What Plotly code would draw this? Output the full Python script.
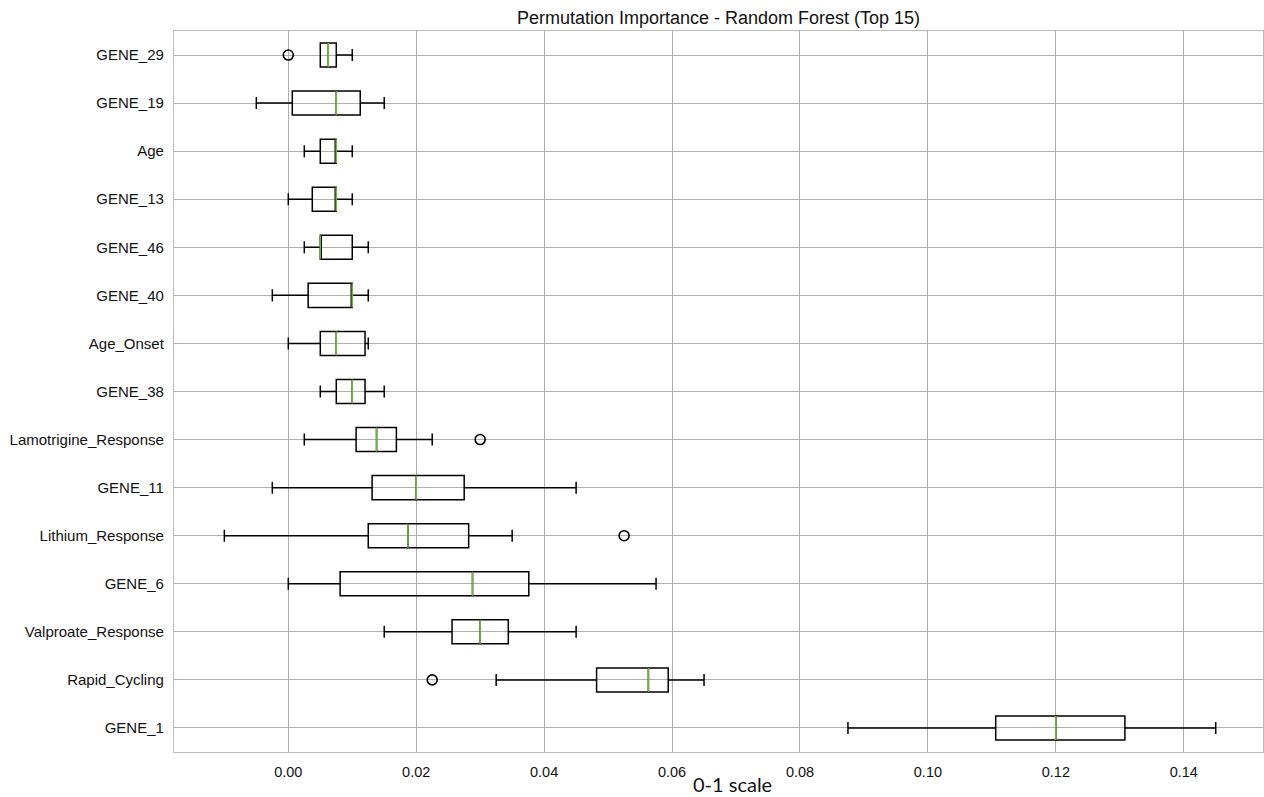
import plotly.graph_objects as go

# Features listed top to bottom
features = ["GENE_29", "GENE_19", "Age", "GENE_13", "GENE_46", "GENE_40", "Age_Onset",
            "GENE_38", "Lamotrigine_Response", "GENE_11", "Lithium_Response", "GENE_6",
            "Valproate_Response", "Rapid_Cycling", "GENE_1"]
lower_whisker = [0.005, -0.005, 0.0025, 0.0, 0.0025, -0.0025, 0.0, 0.005, 0.0025, -0.0025,
                 -0.01, 0.0, 0.015, 0.0325, 0.0875]
q1_vals = [0.005, 0.000625, 0.005, 0.00375, 0.005, 0.0031, 0.005, 0.0075, 0.0106, 0.0131,
           0.0125, 0.0081, 0.0256, 0.0482, 0.1106]
median_vals = [0.00625, 0.0075, 0.0075, 0.0075, 0.005, 0.01, 0.0075, 0.01, 0.0138, 0.020,
               0.0187, 0.0288, 0.030, 0.0563, 0.120]
q3_vals = [0.0075, 0.01125, 0.0075, 0.0075, 0.01, 0.01, 0.012, 0.012, 0.0169, 0.0275,
           0.0282, 0.0376, 0.0344, 0.0594, 0.1308]
upper_whisker = [0.01, 0.015, 0.01, 0.01, 0.0125, 0.0125, 0.0125, 0.015, 0.0225, 0.045,
                 0.035, 0.0575, 0.045, 0.065, 0.145]
outliers = [[0.0], [], [], [], [], [], [], [], [0.030], [], [0.0525], [], [], [0.0225], []]

x_ticks = [0.00, 0.02, 0.04, 0.06, 0.08, 0.10, 0.12, 0.14]
title_text = "Permutation Importance - Random Forest (Top 15)"
x_label = "0-1 scale"

n = len(features)
positions = [n - i for i in range(n)]  # top feature at highest position
half_w = 0.25

fig = go.Figure()
fig.add_trace(go.Box(
    orientation="h",
    y=positions,
    q1=q1_vals, median=median_vals, q3=q3_vals,
    lowerfence=lower_whisker, upperfence=upper_whisker,
    width=0.5, whiskerwidth=0.5,
    boxpoints=False,
    line=dict(color="black", width=1.5),
    fillcolor="rgba(255,255,255,0)",
    showlegend=False, hoverinfo="skip",
))

mx, my = [], []
for p, m in zip(positions, median_vals):
    mx += [m, m, None]
    my += [p - half_w, p + half_w, None]
fig.add_trace(go.Scatter(x=mx, y=my, mode="lines",
                         line=dict(color="#6db33f", width=1.6),
                         showlegend=False, hoverinfo="skip"))

ox, oy = [], []
for p, outs in zip(positions, outliers):
    for o in outs:
        ox.append(o)
        oy.append(p)
fig.add_trace(go.Scatter(x=ox, y=oy, mode="markers",
                         marker=dict(symbol="circle-open", size=10, color="black",
                                     line=dict(width=1.6)),
                         showlegend=False, hoverinfo="skip"))

fig.update_layout(
    width=1264, height=797,
    margin=dict(l=174, r=1, t=31, b=45),
    plot_bgcolor="white", paper_bgcolor="white",
    font=dict(family="Liberation Sans, Arial, sans-serif", size=15, color="#111111"),
    title=dict(text=title_text, x=(174 + 1263) / 2 / 1264, xanchor="center",
               y=1 - 18 / 797, yanchor="middle",
               font=dict(family="Liberation Sans, Arial, sans-serif", size=18, color="#111111")),
    xaxis=dict(range=[-0.01787, 0.15239], tickvals=x_ticks,
               ticktext=[f"{t:.2f}" for t in x_ticks],
               tickfont=dict(size=14.5),
               showgrid=True, gridcolor="#b0b0b0", gridwidth=1,
               showline=True, mirror=True, linecolor="#bcbcbc", linewidth=1.3,
               ticks="outside", ticklen=6, tickcolor="rgba(0,0,0,0)",
               zeroline=False),
    yaxis=dict(range=[0.5, n + 0.5], tickvals=positions, ticktext=features,
               tickfont=dict(size=15),
               showgrid=True, gridcolor="#b0b0b0", gridwidth=1,
               showline=True, mirror=True, linecolor="#bcbcbc", linewidth=1.3,
               ticks="outside", ticklen=6, tickcolor="rgba(0,0,0,0)",
               zeroline=False),
    annotations=[dict(text=x_label, xref="paper", yref="paper",
                      x=(732 - 174) / (1263 - 174), y=-32 / 721,
                      xanchor="center", yanchor="middle", showarrow=False,
                      font=dict(family="Lato, Open Sans, sans-serif", size=20, color="#111111"))],
)

fig.write_html("out.html")
